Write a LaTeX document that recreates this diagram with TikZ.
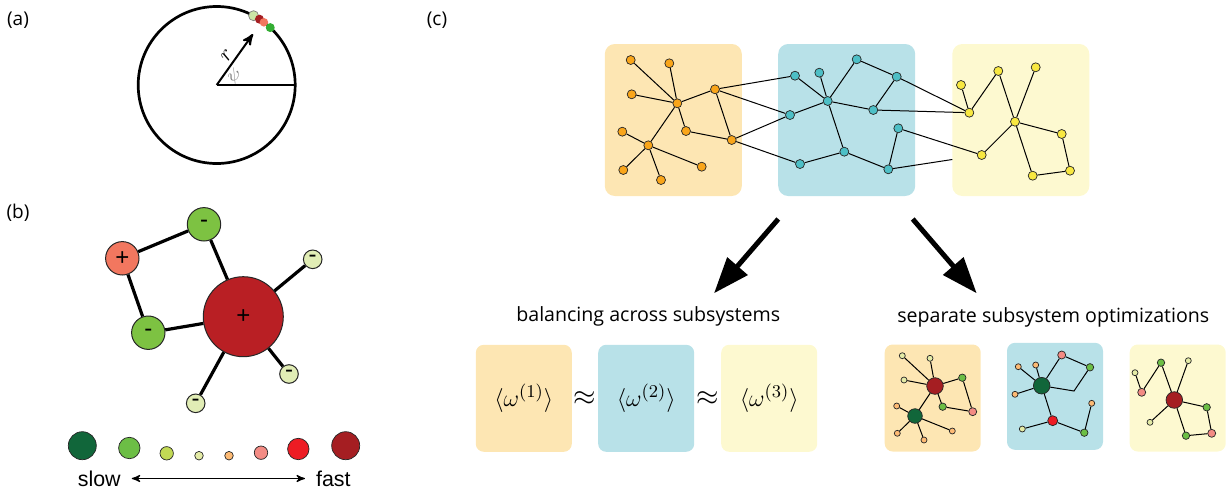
\documentclass[tikz,border=0pt]{standalone}
\usepackage{amssymb}
\usepackage{amsmath}
\usepackage{fontspec}
\setmainfont{Open Sans}
\newfontfamily\legendfont{Liberation Sans}
\usetikzlibrary{arrows,arrows.meta,calc}

\definecolor{boxorange}{HTML}{FDE6B3}
\definecolor{boxblue}{HTML}{B8E1E8}
\definecolor{boxyellow}{HTML}{FDF9D0}
\definecolor{nodeorange}{HTML}{F9A51A}
\definecolor{nodeblue}{HTML}{4DBFC6}
\definecolor{nodeyellow}{HTML}{F8E841}
\definecolor{slowest}{HTML}{11663A}
\definecolor{slowtwo}{HTML}{6CBE45}
\definecolor{slowthree}{HTML}{C2D955}
\definecolor{slowfour}{HTML}{E4EBA6}
\definecolor{fastfour}{HTML}{FDBA74}
\definecolor{fastthree}{HTML}{F38B84}
\definecolor{fasttwo}{HTML}{ED1C24}
\definecolor{fastest}{HTML}{A51E22}
\definecolor{sketchsalmon}{HTML}{F2775F}
\definecolor{sketchgreen}{HTML}{7DC242}
\definecolor{sketchred}{HTML}{B91F24}
\definecolor{sketchpale}{HTML}{E1EDB5}

\begin{document}
\begin{tikzpicture}[x=0.5pt,y=-0.5pt,>=stealth',font=\fontsize{9.5}{11}\selectfont]
  \tikzstyle{dot}=[circle,draw=black!85,line width=0.35pt,inner sep=0pt]
  \tikzstyle{orange place}=[dot,fill=nodeorange,minimum size=4.5pt]
  \tikzstyle{blue place}=[dot,fill=nodeblue,minimum size=4.5pt]
  \tikzstyle{yellow place}=[dot,fill=nodeyellow,minimum size=4.5pt]
  \tikzstyle{hub}=[dot,minimum size=8.3pt]
  \tikzstyle{mid}=[dot,minimum size=3.7pt]
  \tikzstyle{leaf}=[dot,minimum size=3pt]
  \tikzstyle{sketch}=[dot,line width=0.5pt,font=\legendfont\fontsize{12}{12}\selectfont]
  \tikzstyle{big box}=[rounded corners=5pt,minimum width=68.5pt,minimum height=76pt,inner sep=0pt]
  \tikzstyle{small box}=[rounded corners=4pt,minimum width=48pt,minimum height=53.5pt,inner sep=0pt,
                         font=\fontsize{13}{15}\selectfont]
  \tikzstyle{heading}=[font=\fontsize{9.8}{11}\selectfont]
  \tikzstyle{link}=[line width=0.5pt]

  \useasboundingbox (0,0) rectangle (1228,493);

  % (a) phase on the circle
  \node (la) at (18,20) {(a)};
  \coordinate (ctr) at (216.7,85);
  \coordinate (rim) at (295.2,85);
  \coordinate (tip) at (253,34);
  \draw[line width=1.35pt] (ctr) circle [radius=78.5];
  \draw[line width=1pt] (ctr) -- (rim);
  \draw[->,line width=1pt] (ctr) -- (tip);
  \node[rotate=54] (rlab) at (227,55) {\fontsize{11}{11}\selectfont$r$};
  \node[rotate=20,gray] (psilab) at (234,76) {\fontsize{9}{9}\selectfont$\psi$};
  \node[dot,draw=gray,fill=slowfour!60!slowtwo!70,minimum size=5pt] (d1) at ($(ctr)+(-62:78.5)$) {};
  \node[dot,draw=none,fill=fastest,minimum size=4.5pt] (d2) at ($(ctr)+(-57:78.5)$) {};
  \node[dot,draw=none,fill=sketchsalmon,minimum size=4.3pt] (d3) at ($(ctr)+(-53:78.5)$) {};
  \node[dot,draw=none,fill=green!60!black!80,minimum size=4.5pt] (d4) at ($(ctr)+(-47:78.5)$) {};

  % (b) local sketch
  \node (lb) at (18,213) {(b)};
  \node[sketch,fill=sketchred,minimum size=40pt] (big) at (243.3,316.7) {+};
  \node[sketch,fill=sketchsalmon,minimum size=16.7pt] (sal) at (122.3,258.3) {+};
  \node[sketch,fill=sketchgreen,minimum size=16.7pt] (gtop) at (204,224.3) {-};
  \node[sketch,fill=sketchgreen,minimum size=16.7pt] (gbot) at (148.3,332.7) {-};
  \node[sketch,fill=sketchpale,minimum size=9.3pt] (pa) at (312.7,259.3) {-};
  \node[sketch,fill=sketchpale,minimum size=9.3pt] (pb) at (289,374) {-};
  \node[sketch,fill=sketchpale,minimum size=9.3pt] (pc) at (195.7,403.3) {-};
  \draw[line width=1.6pt] (sal) -- (gtop) -- (big) -- (gbot) -- (sal)
    (big) edge (pa) edge (pb) edge (pc);

  % rate legend
  \node[dot,fill=slowest,minimum size=14pt] (r1) at (82.3,445.7) {};
  \node[dot,fill=slowtwo,minimum size=10.7pt] (r2) at (129.3,448) {};
  \node[dot,fill=slowthree,minimum size=6.7pt] (r3) at (166.7,453.3) {};
  \node[dot,fill=slowfour,minimum size=4.3pt] (r4) at (199,455.7) {};
  \node[dot,fill=fastfour,minimum size=4.3pt] (r5) at (229,455.7) {};
  \node[dot,fill=fastthree,minimum size=6.7pt] (r6) at (261,452.7) {};
  \node[dot,fill=fasttwo,minimum size=10.7pt] (r7) at (298.3,449) {};
  \node[dot,fill=fastest,minimum size=14pt] (r8) at (345.7,445.7) {};
  \node[font=\legendfont\fontsize{10.7}{12}\selectfont] (slow) at (99.3,478.5) {slow};
  \node[font=\legendfont\fontsize{10.7}{12}\selectfont] (fast) at (333.3,478.5) {fast};
  \draw[<->,line width=0.6pt,shorten <=2pt,shorten >=2pt] (slow) -- (fast);

  % (c) whole network
  \node (lc) at (437,20) {(c)};
  \node[big box,fill=boxorange] (A) at (673.3,120) {};
  \node[big box,fill=boxblue] (B) at (846.7,120) {};
  \node[big box,fill=boxyellow] (C) at (1020.8,120) {};

  \node[orange place] (o1) at (630.7,60) {};
  \node[orange place] (o2) at (669.3,63.3) {};
  \node[orange place] (o3) at (631.7,94.3) {};
  \node[orange place] (o4) at (677.3,103.3) {};
  \node[orange place] (o5) at (715,89.3) {};
  \node[orange place] (o6) at (686,131) {};
  \node[orange place] (o7) at (731.7,140) {};
  \node[orange place] (o8) at (622.3,131.7) {};
  \node[orange place] (o9) at (648.3,145.3) {};
  \node[orange place] (o10) at (623.3,170) {};
  \node[orange place] (o11) at (661,180) {};
  \node[orange place] (o12) at (701.7,166.7) {};

  \node[blue place] (b1) at (795,75.7) {};
  \node[blue place] (b2) at (819.3,72.7) {};
  \node[blue place] (b3) at (790,115) {};
  \node[blue place] (b4) at (827.7,101) {};
  \node[blue place] (b5) at (856.7,59.3) {};
  \node[blue place] (b6) at (896.7,76.7) {};
  \node[blue place] (b7) at (873.3,110) {};
  \node[blue place] (b8) at (898.3,128.3) {};
  \node[blue place] (b9) at (844.3,151.7) {};
  \node[blue place] (b10) at (800,164) {};
  \node[blue place] (b11) at (888.3,169.3) {};

  \node[yellow place] (y1) at (961,85) {};
  \node[yellow place] (y2) at (998.3,71) {};
  \node[yellow place] (y3) at (1035.7,67.3) {};
  \node[yellow place] (y4) at (969.3,112.7) {};
  \node[yellow place] (y5) at (1015,121.7) {};
  \node[yellow place] (y6) at (1061.7,134) {};
  \node[yellow place] (y7) at (981.7,155) {};
  \node[yellow place] (y8) at (1032.7,175.7) {};
  \node[yellow place] (y9) at (1070,170.7) {};
  \coordinate (cut) at (952.3,159.5);

  \draw[link] (o4) edge (o1) edge (o2) edge (o3) edge (o5) edge (o6) edge (o9)
    (o9) edge (o8) edge (o10) edge (o11) edge (o12)
    (o7) edge (o6) edge (o5) edge (b3) edge (b10)
    (o5) edge (b1) edge (b3);
  \draw[link] (b4) edge (b1) edge (b2) edge (b3) edge (b5) edge (b7) edge (b9)
    (b6) edge (b5) edge (b7) edge (y4)
    (b9) edge (b10) edge (b11)
    (b11) edge (b8) edge (cut)
    (b7) edge (y4) (b8) edge (y7);
  \draw[link] (y5) edge (y2) edge (y3) edge (y6) edge (y7) edge (y8)
    (y4) edge (y1) edge (y2) (y9) edge (y6) edge (y8);

  % arrows down
  \coordinate (al) at (778.3,219);
  \coordinate (alt) at (714,293.3);
  \coordinate (ar) at (912.7,219);
  \coordinate (art) at (976.7,293.3);
  \draw[line width=2.5pt,-{Triangle[length=18pt,width=13pt]}] (al) -- (alt);
  \draw[line width=2.5pt,-{Triangle[length=18pt,width=13pt]}] (ar) -- (art);

  \node[heading] (bal) at (648.3,316.7) {balancing across subsystems};
  \node[heading] (sep) at (1053.3,317.7) {separate subsystem optimizations};

  % balancing
  \node[small box,fill=boxorange] (m1) at (523.8,398.3) {$\langle\omega^{(1)}\rangle$};
  \node[small box,fill=boxblue] (m2) at (646.2,398.3) {$\langle\omega^{(2)}\rangle$};
  \node[small box,fill=boxyellow] (m3) at (769.2,398.3) {$\langle\omega^{(3)}\rangle$};
  \node[font=\fontsize{14}{15}\selectfont] (eq1) at (585,398.3) {$\approx$};
  \node[font=\fontsize{14}{15}\selectfont] (eq2) at (707.3,398.3) {$\approx$};

  % separate optimizations
  \node[small box,fill=boxorange] (s1box) at (932.7,398) {};
  \node[small box,fill=boxblue] (s2box) at (1055,396.3) {};
  \node[small box,fill=boxyellow] (s3box) at (1177.7,398) {};

  \node[hub,fill=fastest] (p1) at (935,386) {};
  \node[hub,fill=slowest,minimum size=7.3pt] (p2) at (915,416) {};
  \node[leaf,fill=slowfour] (p3) at (902.3,355.7) {};
  \node[leaf,fill=slowfour] (p4) at (930,358.3) {};
  \node[leaf,fill=slowfour] (p5) at (904,380) {};
  \node[mid,fill=slowtwo] (p6) at (962.3,377.7) {};
  \node[mid,fill=slowtwo] (p7) at (942.7,406.7) {};
  \node[mid,fill=fastthree,minimum size=4pt] (p8) at (972.7,411.7) {};
  \node[leaf,fill=fastfour] (p9) at (896.7,406) {};
  \node[leaf,fill=fastfour] (p10) at (897.3,433.3) {};
  \node[leaf,fill=fastfour] (p11) at (924,440) {};
  \node[leaf,fill=fastfour] (p12) at (952.3,431) {};
  \draw[link] (p1) edge (p3) edge (p4) edge (p5) edge (p6) edge (p7) edge (p2)
    (p8) edge (p6) edge (p7)
    (p2) edge (p9) edge (p10) edge (p11) edge (p12);

  \node[hub,fill=slowest] (q1) at (1041.7,385.7) {};
  \node[mid,fill=fastthree,minimum size=4pt] (q2) at (1061.7,355) {};
  \node[mid,fill=slowtwo] (q3) at (1090,367.3) {};
  \coordinate (q4) at (1074,391);
  \node[leaf,fill=fastfour] (q5) at (1018.3,366.7) {};
  \node[leaf,fill=fastfour] (q6) at (1035.7,365) {};
  \node[leaf,fill=fastfour] (q7) at (1015,394.3) {};
  \node[hub,fill=fasttwo,minimum size=5pt] (q8) at (1052.7,420.7) {};
  \node[leaf,fill=slowfour] (q9) at (1022.3,429) {};
  \node[mid,fill=slowtwo] (q10) at (1084.3,432.7) {};
  \node[leaf,fill=fastfour] (q11) at (1091.7,403.3) {};
  \draw[link] (q1) -- (q2) -- (q3) -- (q4) -- (q1);
  \draw[link] (q1) edge (q5) edge (q6) edge (q7) edge (q8)
    (q8) edge (q9) edge (q10) (q10) edge (q11);

  \node[hub,fill=fastest] (t1) at (1174.3,400) {};
  \node[mid,fill=slowtwo] (t2) at (1161,362.7) {};
  \node[leaf,fill=slowfour] (t3) at (1188.3,360.7) {};
  \node[leaf,fill=slowfour] (t4) at (1135,372.7) {};
  \node[mid,fill=fastthree,minimum size=4pt] (t5) at (1141.7,392.3) {};
  \node[mid,fill=slowtwo] (t6) at (1206.7,407.3) {};
  \node[mid,fill=fastthree,minimum size=4pt] (t7) at (1211.7,433.3) {};
  \node[mid,fill=slowtwo] (t8) at (1186,435.7) {};
  \node[leaf,fill=slowfour] (t9) at (1150,422.3) {};
  \draw[link] (t4) -- (t5) -- (t2) -- (t1) -- (t6) -- (t7) -- (t8) -- (t1)
    (t1) edge (t3) edge (t9);
\end{tikzpicture}
\end{document}
